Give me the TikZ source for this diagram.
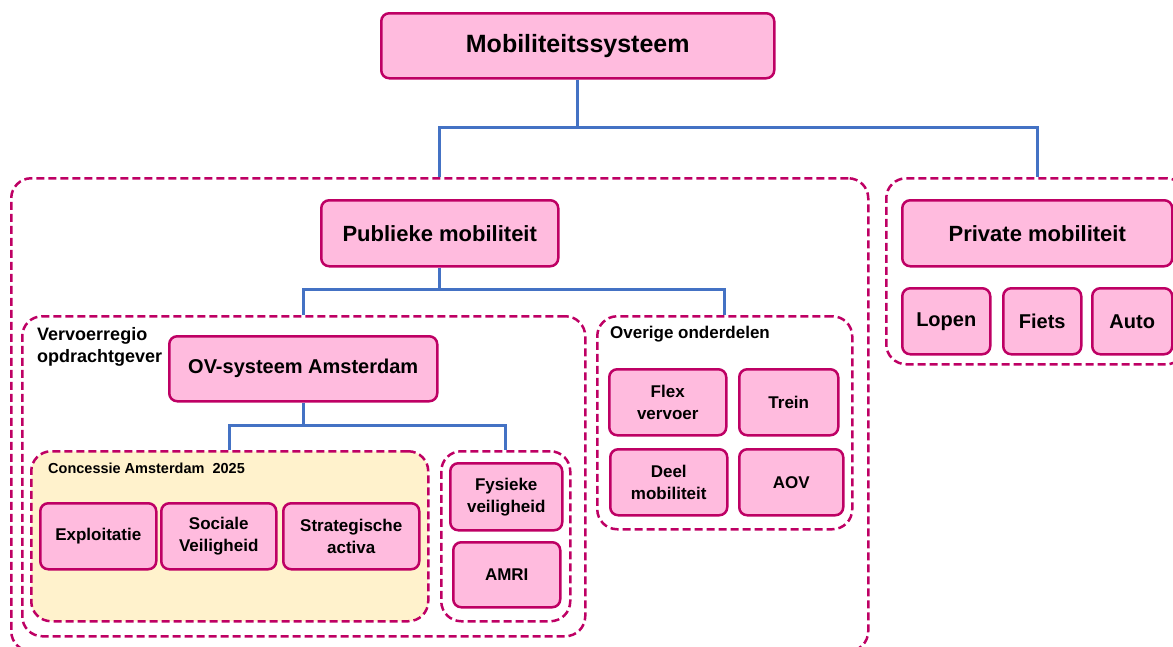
\documentclass[tikz,border=0pt]{standalone}
\usepackage{fontspec}
\setmainfont{Liberation Sans}
\definecolor{boxpink}{RGB}{255,187,222}
\definecolor{boxedge}{RGB}{190,0,100}
\definecolor{linkblue}{RGB}{68,114,196}
\definecolor{conyellow}{RGB}{255,242,204}
\tikzset{
	unit/.style={draw=boxedge, fill=boxpink, line width=2.5pt, rounded corners=8pt, inner sep=0pt, align=center, anchor=north west, font=\bfseries\fontsize{17}{22}\selectfont},
	frame/.style={draw=boxedge, line width=2.5pt, dash pattern=on 8pt off 4pt, rounded corners=20pt, inner sep=0pt, anchor=north west},
	wh/.style 2 args={minimum width=#1, minimum height=#2},
	link/.style={draw=linkblue, line width=3pt},
	caption/.style={anchor=north west, inner sep=0pt, align=left, font=\bfseries\fontsize{17}{22}\selectfont}
}
\begin{document}
\begin{tikzpicture}[x=1pt, y=-1pt]
			\useasboundingbox (0,0) rectangle (1173,646);

			\node (pubframe)[frame, wh={857}{473}] at (10,177) {};
			\node (privframe)[frame, wh={300}{186}] at (885,177) {};
			\node (vrframe)[frame, wh={563}{320}] at (21,315) {};
			\node (restframe)[frame, wh={255}{213}] at (596,315) {};
			\node (conframe)[frame, fill=conyellow, wh={397}{170}] at (30,450) {};
			\node (fysframe)[frame, wh={129}{170}] at (440,450) {};

			\node (sys)[unit, wh={393}{65}, font=\bfseries\fontsize{25}{29}\selectfont] at (380,12) {Mobiliteitssysteem};
			\node (pub)[unit, wh={237}{66}, font=\bfseries\fontsize{22}{26}\selectfont] at (320,199) {Publieke mobiliteit};
			\node (priv)[unit, wh={270}{66}, font=\bfseries\fontsize{22}{26}\selectfont] at (901,199) {Private mobiliteit};
			\node (lopen)[unit, wh={88}{66}, font=\bfseries\fontsize{20}{24}\selectfont] at (901,287) {Lopen};
			\node (fiets)[unit, wh={78}{66}, font=\bfseries\fontsize{20}{24}\selectfont] at (1002,287) {Fiets};
			\node (auto)[unit, wh={80}{66}, font=\bfseries\fontsize{20}{24}\selectfont] at (1091,287) {Auto};

			\node (vrtext)[caption, font=\bfseries\fontsize{18}{22}\selectfont] at (37,327) {Vervoerregio\\opdrachtgever};
			\node (ov)[unit, wh={268}{65}, font=\bfseries\fontsize{20}{24}\selectfont] at (168,335) {OV-systeem Amsterdam};

			\node (resttext)[caption] at (610,326) {Overige onderdelen};
			\node (flex)[unit, wh={117}{66}] at (608,368) {Flex\\vervoer};
			\node (trein)[unit, wh={99}{66}] at (738,368) {Trein};
			\node (deel)[unit, wh={117}{66}] at (609,448) {Deel\\mobiliteit};
			\node (aov)[unit, wh={104}{66}] at (738,448) {AOV};

			\node (context)[caption, font=\bfseries\fontsize{14.5}{18}\selectfont] at (48,463) {Concessie Amsterdam~~2025};
			\node (expl)[unit, wh={116}{66}] at (39,502) {Exploitatie};
			\node (soc)[unit, wh={115}{66}] at (160,502) {Sociale\\Veiligheid};
			\node (strat)[unit, wh={136}{66}] at (282,502) {Strategische\\activa};

			\node (fys)[unit, wh={112}{67}] at (449,462) {Fysieke\\veiligheid};
			\node (amri)[unit, wh={107}{65}] at (452,541) {AMRI};

			\coordinate (j1) at (sys.south |- 0,127);
			\coordinate (j2) at (pub.south |- 0,289);
			\coordinate (j3) at (ov.south |- 0,425);
			\draw[link] (sys.south) -- (j1);
			\draw[link] (pubframe.north -| pub.south) |- (j1) -| (privframe.north -| priv.south);
			\draw[link] (pub.south) -- (j2);
			\draw[link] (vrframe.north -| ov.south) |- (j2) -| (restframe.north);
			\draw[link] (ov.south) -- (j3);
			\draw[link] (conframe.north) |- (j3) -| (fysframe.north);
		\end{tikzpicture}
\end{document}
